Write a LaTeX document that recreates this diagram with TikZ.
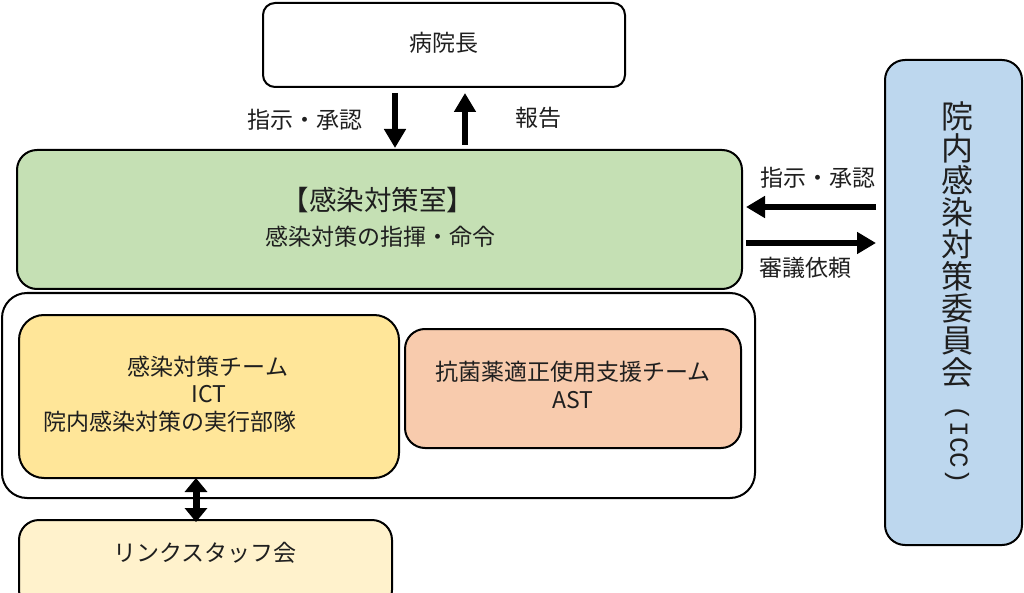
\documentclass[tikz,border=0pt]{standalone}
\usepackage{fontspec}
\setmainfont{Noto Sans CJK JP}
\newfontfamily\iccmono{Liberation Mono}
\usetikzlibrary{arrows.meta,calc}
\definecolor{gfill}{HTML}{C5E0B4}
\definecolor{yfill}{HTML}{FFE699}
\definecolor{ofill}{HTML}{F8CBAD}
\definecolor{lyfill}{HTML}{FFF2CC}
\definecolor{bfill}{HTML}{BDD7EE}
\definecolor{txt}{HTML}{1F1F1F}
\begin{document}
\begin{tikzpicture}[x=1pt,y=-1pt,
  box/.style={draw=black, line width=2pt, rounded corners=#1, inner sep=0pt, text=txt},
  fs/.style={font=\fontsize{23}{27}\selectfont, text=txt, inner sep=0pt},
  bigarrow/.style={line width=6pt, -{Triangle[length=19pt,width=21pt]}},
  dblarrow/.style={line width=7pt, {Triangle[length=14pt,width=22pt]}-{Triangle[length=14pt,width=22pt]}}]
\clip (0,0) rectangle (1024,593);
\useasboundingbox (0,0) rectangle (1024,593);
\fill[white] (0,0) rectangle (1024,593);
% boxes
\node[box=12pt, fill=white, minimum width=362pt, minimum height=84pt] (boss) at (444,45) {};
\node[fs] (bt) at (444,43) {病院長};
\node[box=20pt, fill=gfill, minimum width=725pt, minimum height=139pt] (green) at (379.5,219.5) {};
\node[fs, font=\fontsize{27.5}{30}\selectfont] (gt1) at (378,200) {【感染対策室】};
\node[fs] (gt2) at (380,237) {感染対策の指揮・命令};
\node[box=25pt, fill=white, minimum width=753pt, minimum height=205pt] (outer) at (378.5,395.5) {};
\node[box=25pt, fill=yfill, minimum width=380pt, minimum height=163pt] (ict) at (209,396.5) {};
\node[fs] (it1) at (208,367) {感染対策チーム};
\node[fs] (it2) at (209,394) {ICT};
\node[fs] (it3) at (170,422) {院内感染対策の実行部隊};
\node[box=20pt, fill=ofill, minimum width=336pt, minimum height=119pt] (ast) at (573,388.5) {};
\node[fs] (at1) at (573,372) {抗菌薬適正使用支援チーム};
\node[fs] (at2) at (573,400) {AST};
\node[box=20pt, fill=lyfill, minimum width=373pt, minimum height=90pt] (link) at (205.5,565) {};
\node[fs] (lt) at (205,553) {リンクスタッフ会};
\node[box=20pt, fill=bfill, minimum width=137pt, minimum height=485pt] (icc) at (953.5,302.5) {};
\node[fs, font=\fontsize{32}{32}\selectfont, align=center] (iccv) at (957,244.5) {院\\内\\感\\染\\対\\策\\委\\員\\会};
\node[fs, font=\iccmono\fontsize{26}{26}\selectfont, rotate=-90] (icch) at (957,445) {(ICC)};
% arrow coordinates
\coordinate (dx) at (395,0);
\coordinate (ux) at (465,0);
\coordinate (ly) at (0,207);
\coordinate (ry) at (0,243);
\coordinate (ax) at (196,0);
% arrows
\draw[bigarrow, shorten >=1pt] ($(boss.south -| dx)+(0,5)$) -- (green.north -| dx);
\draw[bigarrow] ($(green.north -| ux)+(0,-4)$) -- ($(boss.south -| ux)+(0,5)$);
\draw[bigarrow] ($(icc.west |- ly)+(-8,0)$) -- ($(green.east |- ly)+(3,0)$);
\draw[bigarrow] ($(green.east |- ry)+(3,0)$) -- ($(icc.west |- ry)+(-8,0)$);
\draw[dblarrow] ($(ict.south -| ax)+(0,-1)$) -- ($(link.north -| ax)+(0,3)$);
% labels
\node[fs] (l1) at (305,120) {指示・承認};
\node[fs] (l2) at (538,118) {報告};
\node[fs] (l3) at (818,178) {指示・承認};
\node[fs] (l4) at (805,268) {審議依頼};
\end{tikzpicture}
\end{document}
